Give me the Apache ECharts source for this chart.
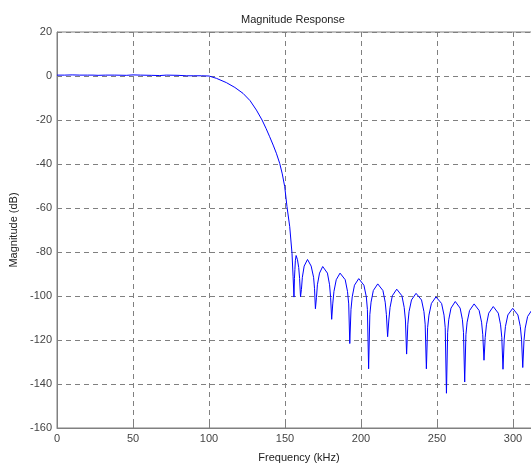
<!DOCTYPE html>
<html>
<head>
<meta charset="utf-8">
<script src="https://cdn.jsdelivr.net/npm/echarts@6/dist/echarts.min.js"></script>
<style>
  html, body { margin: 0; padding: 0; background: #fff; }
  #chart { width: 531px; height: 465px; }
</style>
</head>
<body>
<div id="chart"></div>
<script>
// frequency (kHz) / magnitude (dB)
var passFreq = [0, 5, 10, 15, 20, 23.7, 25, 27, 32, 38, 45.6, 50, 55, 62, 67.6, 72, 79.6, 85, 90, 95, 100];
var passDb = [0.4, 0.4, 0.5, 0.4, 0.4, 0.4, 0.1, 0.3, 0.4, 0.4, 0.3, 0.5, 0.4, 0.3, 0.2, 0.4, 0.3, 0.1, 0.1, 0.1, 0.0];

var transFreq = [105, 111.4, 117, 122.4, 127, 131.2, 134.9, 137.5, 139.9, 142.2, 144.3, 146.5, 148.2, 149.8, 151.3, 153.1, 154.6, 155.3, 155.9];
var transDb = [-1.1, -3, -5.2, -7.9, -11.2, -15.5, -20, -23.8, -27.6, -31.4, -35.1, -39.7, -44.5, -50.3, -59.4, -68.5, -80.6, -91, -100.5];

var stopFreq = [
  156.2, 156.5, 156.8, 157.3, 158.2, 159.0, 159.6, 160.2,
  160.8, 161.4, 162.6, 164.8, 167.2, 168.8, 169.4, 170.0,
  170.7, 171.3, 172.7, 174.8, 177.9, 179.3, 180.0, 180.7,
  181.4, 182.2, 183.7, 186.2, 189.6, 191.1, 191.9, 192.6,
  193.4, 194.2, 195.7, 198.5, 201.9, 203.5, 204.2, 205.0,
  205.8, 206.6, 208.1, 211.0, 214.4, 215.9, 216.7, 217.5,
  218.3, 219.1, 220.6, 223.5, 226.9, 228.4, 229.2, 230.0,
  230.8, 231.6, 233.2, 236.2, 239.8, 241.4, 242.2, 243.0,
  243.8, 244.7, 246.3, 249.3, 253.0, 254.6, 255.4, 256.2,
  257.0, 257.7, 259.2, 262.0, 265.2, 266.7, 267.4, 268.2,
  269.0, 269.8, 271.4, 274.4, 277.7, 279.3, 280.1, 280.9,
  281.7, 282.5, 284.0, 287.0, 290.3, 291.8, 292.6, 293.4,
  294.2, 295.0, 296.6, 299.8, 303.2, 304.8, 305.6, 306.4,
  307.2, 308.0, 309.6, 312.5, 315.0
];
var stopDb = [
  -92, -88, -84, -81.6, -83.5, -87, -92, -100.3,
  -97, -91.5, -86.4, -83.4, -86.4, -91.5, -96.5, -105.8,
  -100.6, -94.9, -89.6, -86.6, -89.6, -94.9, -100.6, -110.6,
  -103.6, -97.9, -92.6, -89.6, -92.6, -97.9, -103.6, -121.6,
  -106.1, -100.4, -95.1, -92.1, -95.1, -100.4, -106.1, -133.1,
  -108.5, -102.8, -97.5, -94.5, -97.5, -102.8, -108.5, -118.5,
  -110.9, -105.2, -99.9, -96.9, -99.9, -105.2, -110.9, -126.4,
  -112.8, -107.1, -101.8, -98.8, -101.8, -107.1, -112.8, -133.1,
  -114.4, -108.7, -103.4, -100.4, -103.4, -108.7, -114.4, -144.2,
  -116.5, -110.8, -105.5, -102.5, -105.5, -110.8, -116.5, -139.1,
  -117.6, -111.9, -106.6, -103.6, -106.6, -111.9, -117.6, -129.2,
  -118.8, -113.1, -107.8, -104.8, -107.8, -113.1, -118.8, -133.3,
  -119.6, -113.9, -108.6, -105.6, -108.6, -113.9, -119.6, -132.5,
  -120.3, -114.6, -109.3, -106.3, -108
];

var freq = passFreq.concat(transFreq, stopFreq);
var mag = passDb.concat(transDb, stopDb);
var points = [];
for (var i = 0; i < freq.length; i++) {
    points.push([freq[i], mag[i]]);
}

var myChart = echarts.init(document.getElementById('chart'));
var gridLine = { show: true, lineStyle: { color: '#808080', type: [5, 4], width: 1 } };
var options = {
    backgroundColor: '#fff',
    animation: false,
    textStyle: { fontFamily: 'Liberation Sans, Arial, sans-serif' },
    title: {
        text: 'Magnitude Response',
        left: 288,
        textAlign: 'center',
        top: 9,
        textStyle: { fontSize: 11, fontWeight: 'normal', color: '#222' }
    },
    grid: {
        left: 57,
        top: 32,
        bottom: 37,
        right: -10,
        containLabel: false,
        outerBoundsMode: 'none',
        show: true,
        borderColor: '#808080',
        borderWidth: 1
    },
    xAxis: {
        type: 'value',
        min: 0,
        max: 318.4,
        interval: 50,
        name: 'Frequency (kHz)',
        nameLocation: 'middle',
        nameGap: 24,
        nameTextStyle: { fontSize: 11, color: '#222' },
        axisLine: { show: true, onZero: false, lineStyle: { color: '#808080' } },
        axisTick: { show: true, inside: true, length: 4, lineStyle: { color: '#808080' } },
        axisLabel: { fontSize: 11, color: '#444', margin: 5, showMaxLabel: false },
        splitLine: gridLine
    },
    yAxis: {
        type: 'value',
        min: -160,
        max: 20,
        interval: 20,
        name: 'Magnitude (dB)',
        nameLocation: 'middle',
        nameGap: 36,
        nameTextStyle: { fontSize: 11, color: '#222' },
        axisLine: { show: true, onZero: false, lineStyle: { color: '#808080' } },
        axisTick: { show: true, inside: true, length: 4, lineStyle: { color: '#808080' } },
        axisLabel: { fontSize: 11, color: '#444', margin: 5 },
        splitLine: gridLine
    },
    series: [{
        type: 'line',
        data: points,
        showSymbol: false,
        symbol: 'none',
        lineStyle: { color: '#0000ff', width: 1 },
        clip: true
    }]
};
myChart.setOption(options, true);
</script>
</body>
</html>
